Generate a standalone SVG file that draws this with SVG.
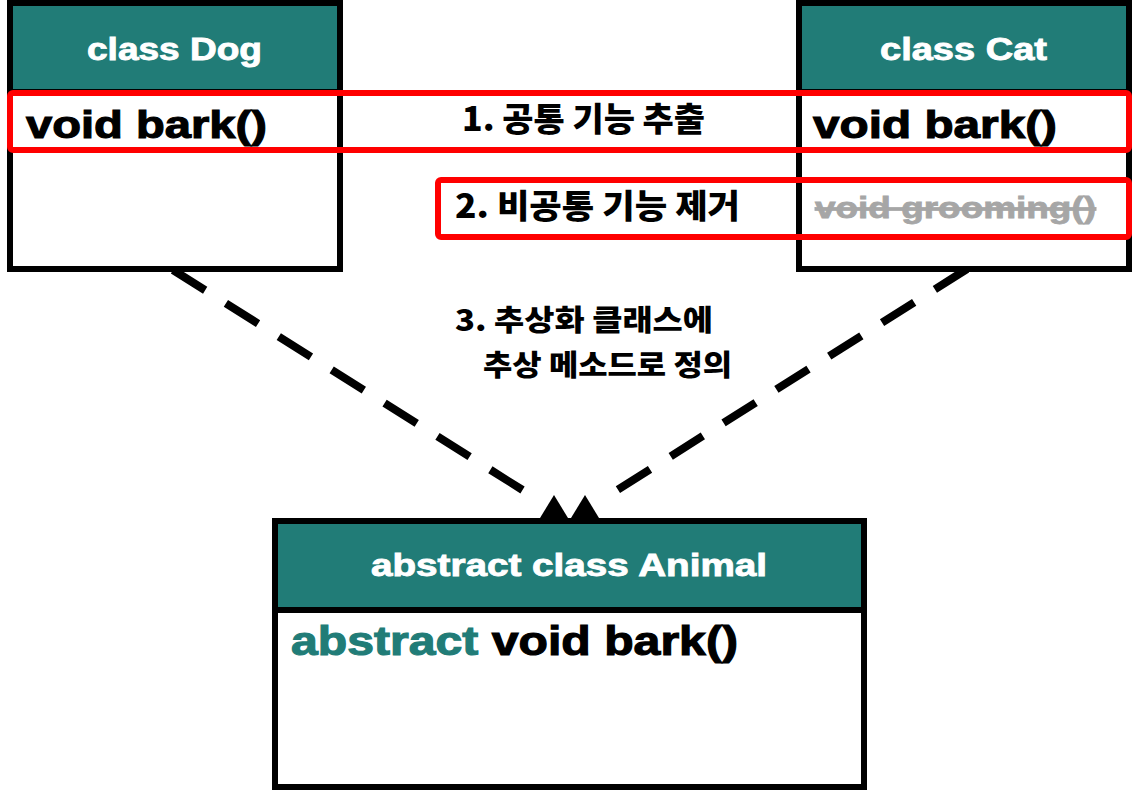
<svg xmlns="http://www.w3.org/2000/svg" width="1132" height="791" viewBox="0 0 1132 791">
  <style>
    .box { fill: #ffffff; stroke: #000000; stroke-width: 6; }
    .head { fill: #217c77; }
    .sep { stroke: #000000; stroke-width: 6; }
    .title { font-family: "Liberation Sans", Arial, sans-serif; font-weight: bold; font-size: 32px; fill: #ffffff; stroke: #ffffff; stroke-width: 0.9; }
    .method { font-family: "Liberation Sans", Arial, sans-serif; font-weight: bold; font-size: 39px; fill: #000000; stroke: #000000; stroke-width: 1.1; }
    .removed { font-family: "Liberation Sans", Arial, sans-serif; font-weight: bold; font-size: 29.5px; fill: #a6a6a6; stroke: #a6a6a6; stroke-width: 0.8; text-decoration: line-through; }
    .kw { fill: #217c77; stroke: #217c77; }
    .note { font-family: "Noto Sans CJK KR", "Noto Sans", sans-serif; font-weight: 900; fill: #000000; }
    .hl { fill: none; stroke: #ff0000; stroke-width: 6; }
    .dash { fill: none; stroke: #000000; stroke-width: 8; stroke-dasharray: 38 24.5; }
  </style>
  <defs>
    <marker id="triL" markerUnits="userSpaceOnUse" markerWidth="30" markerHeight="25" viewBox="0 0 30 25" refX="0" refY="6" orient="0" overflow="visible">
      <path d="M0,23 L14,0 L28,23 Z" fill="#000000"/>
    </marker>
    <marker id="triR" markerUnits="userSpaceOnUse" markerWidth="30" markerHeight="25" viewBox="0 0 30 25" refX="29" refY="6" orient="0" overflow="visible">
      <path d="M0,23 L14,0 L28,23 Z" fill="#000000"/>
    </marker>
  </defs>

  <g id="connectors">
    <path class="dash" d="M173,270 L540,501" marker-end="url(#triL)"/>
    <path class="dash" d="M967,269 L600,501" marker-end="url(#triR)"/>
  </g>

  <g id="dog">
    <rect class="box" x="10" y="3" width="330" height="266"/>
    <rect class="head" x="13" y="6" width="324" height="86"/>
    <line class="sep" x1="10" y1="92" x2="340" y2="92"/>
    <text class="title" x="87" y="60" textLength="175" lengthAdjust="spacingAndGlyphs">class Dog</text>
    <text class="method" x="26" y="138" textLength="241" lengthAdjust="spacingAndGlyphs">void bark()</text>
  </g>

  <g id="cat">
    <rect class="box" x="799" y="3" width="330" height="266"/>
    <rect class="head" x="802" y="6" width="324" height="86"/>
    <line class="sep" x1="799" y1="92" x2="1129" y2="92"/>
    <text class="title" x="880" y="60" textLength="167" lengthAdjust="spacingAndGlyphs">class Cat</text>
    <text class="method" x="813" y="138" textLength="244" lengthAdjust="spacingAndGlyphs">void bark()</text>
    <text class="removed" x="815" y="218" textLength="281" lengthAdjust="spacingAndGlyphs">void grooming()</text>
  </g>

  <g id="animal">
    <rect class="box" x="275" y="521" width="589" height="266"/>
    <rect class="head" x="278" y="524" width="583" height="86"/>
    <line class="sep" x1="275" y1="610" x2="864" y2="610"/>
    <text class="title" x="371" y="576" textLength="396" lengthAdjust="spacingAndGlyphs">abstract class Animal</text>
    <text class="method" x="291" y="655" style="font-size:40px" textLength="447" lengthAdjust="spacingAndGlyphs"><tspan class="kw">abstract</tspan> void bark()</text>
  </g>

  <g id="step1">
    <rect class="hl" x="10" y="93" width="1119" height="57" rx="3"/>
    <text class="note" x="462" y="131" font-size="33" textLength="243" lengthAdjust="spacingAndGlyphs">1. 공통 기능 추출</text>
  </g>

  <g id="step2">
    <rect class="hl" x="438" y="180" width="691" height="57" rx="3"/>
    <text class="note" x="455" y="218" font-size="33" textLength="285" lengthAdjust="spacingAndGlyphs">2. 비공통 기능 제거</text>
  </g>

  <g id="step3">
    <text class="note" x="455" y="331" font-size="29" textLength="258" lengthAdjust="spacingAndGlyphs">3. 추상화 클래스에</text>
    <text class="note" x="483" y="376" font-size="29" textLength="249" lengthAdjust="spacingAndGlyphs">추상 메소드로 정의</text>
  </g>
</svg>
